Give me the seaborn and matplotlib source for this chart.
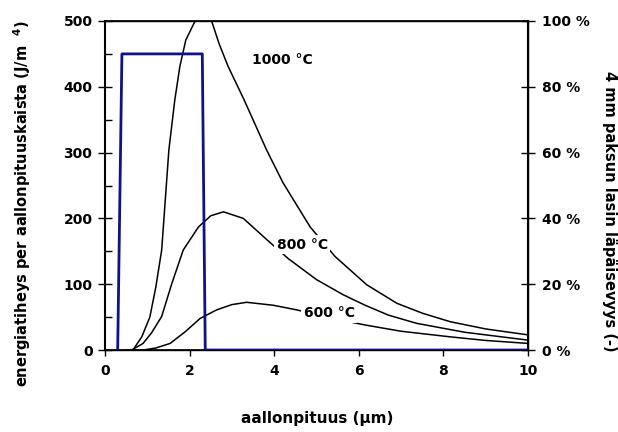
import matplotlib
matplotlib.use("Agg")
import matplotlib.pyplot as plt
import seaborn as sns
from matplotlib.ticker import MultipleLocator, FuncFormatter

# wavelength (um) and energy density (J/m^4)
wl_1000 = [0.5, 0.66, 0.87, 1.06, 1.2, 1.34, 1.51, 1.65, 1.77, 1.91, 2.13, 2.3, 2.52, 2.7, 2.91, 3.29, 3.82, 4.21, 4.85, 5.44, 6.19, 6.9, 7.5, 8.16, 9.0, 10.0]
u_1000 = [0, 0, 20, 50, 95, 152, 304, 380, 431, 471, 500, 515, 500, 465, 431, 380, 304, 254, 187, 142, 99, 71, 56, 43, 32, 23]

wl_800 = [0.5, 0.63, 0.9, 1.1, 1.34, 1.58, 1.85, 2.21, 2.5, 2.8, 3.27, 3.82, 4.33, 5.0, 5.63, 6.15, 6.7, 7.37, 8.5, 10.0]
u_800 = [0, 0, 10, 26, 51, 101, 152, 187, 204, 210, 200, 168, 139, 107, 84, 68, 53, 40.5, 27, 15]

wl_600 = [0.5, 0.9, 1.2, 1.54, 1.9, 2.25, 2.64, 3.0, 3.35, 3.98, 4.53, 5.3, 6.15, 7.0, 8.16, 9.0, 10.0]
u_600 = [0, 0, 3, 10, 28, 48, 61, 69, 72.5, 68, 61, 49, 38, 28.5, 20, 14.5, 10]

# transmittance of 4 mm glass (%)
wl_glass = [0.3, 0.4, 2.3, 2.37, 10.0]
t_glass = [0, 90, 90, 0, 0]

labels = ["1000 °C", "800 °C", "600 °C"]
label_x = [4.2, 4.66, 5.3]
label_y = [440, 160, 56]

sns.set_theme(style="ticks")
plt.rcParams["font.family"] = ["DejaVu Sans"]
plt.rcParams["font.weight"] = "bold"
plt.rcParams["mathtext.default"] = "bf"
plt.rcParams["text.color"] = "black"
plt.rcParams["xtick.color"] = "black"
plt.rcParams["ytick.color"] = "black"
plt.rcParams["xtick.labelcolor"] = "black"
plt.rcParams["ytick.labelcolor"] = "black"

fig = plt.figure(figsize=(6.18, 4.32), dpi=100)
ax = fig.add_axes([105 / 618, 82 / 432, 423 / 618, 329 / 432])

for wl, u in [(wl_1000, u_1000), (wl_800, u_800), (wl_600, u_600)]:
    sns.lineplot(x=wl, y=u, ax=ax, color="black", lw=1.1, zorder=2)

for txt, lx, ly in zip(labels, label_x, label_y):
    ax.text(lx, ly, txt, ha="center", va="center", fontsize=10, fontweight="bold",
            color="black", zorder=5, bbox=dict(facecolor="white", edgecolor="none", pad=2.0))

ax.set_xlim(0, 10)
ax.set_ylim(0, 500)
ax.xaxis.set_major_locator(MultipleLocator(2))
ax.yaxis.set_major_locator(MultipleLocator(100))
ax.yaxis.set_minor_locator(MultipleLocator(50))
ax.tick_params(axis="x", direction="out", length=4, width=1, labelsize=10, pad=6,
               color="black", labelcolor="black")
ax.tick_params(axis="y", which="major", direction="inout", length=10, width=1, labelsize=10, pad=4,
               color="black", labelcolor="black")
ax.tick_params(axis="y", which="minor", direction="in", length=5, width=1, color="black")
for sp in ax.spines.values():
    sp.set_color("black")
    sp.set_linewidth(1.0)
ax.spines["left"].set_linewidth(1.5)
ax.set_xlabel("")
ax.set_ylabel("")

ax2 = ax.twinx()
sns.lineplot(x=wl_glass, y=t_glass, ax=ax2, color="#10108a", lw=2.0, sort=False, estimator=None, zorder=3)
ax2.set_ylim(0, 100)
ax2.set_xlim(0, 10)
ax2.yaxis.set_major_locator(MultipleLocator(20))
ax2.yaxis.set_major_formatter(FuncFormatter(lambda v, p: f"{v:.0f} %"))
ax2.tick_params(axis="y", direction="inout", length=10, width=1, labelsize=10, pad=5,
                color="black", labelcolor="black")
ax2.set_ylabel("")
for sp in ax2.spines.values():
    sp.set_color("black")
ax2.spines["right"].set_linewidth(1.5)

for t in ax.get_xticklabels() + ax.get_yticklabels() + ax2.get_yticklabels():
    t.set_fontweight("bold")

fig.text(317 / 618, 1 - 418 / 432, "aallonpituus (µm)", ha="center", va="center",
         fontsize=11, fontweight="bold", color="black")
fig.text(22 / 618, 1 - 204 / 432, "energiatiheys per aallonpituuskaista (J/m  $^4$)",
         ha="center", va="center", rotation=90, fontsize=10.5, fontweight="bold", color="black")
fig.text(609 / 618, 1 - 211 / 432, "4 mm paksun lasin läpäisevyys (-)",
         ha="center", va="center", rotation=270, fontsize=10.5, fontweight="bold", color="black")

fig.savefig("out.png", dpi=100, facecolor="white")
